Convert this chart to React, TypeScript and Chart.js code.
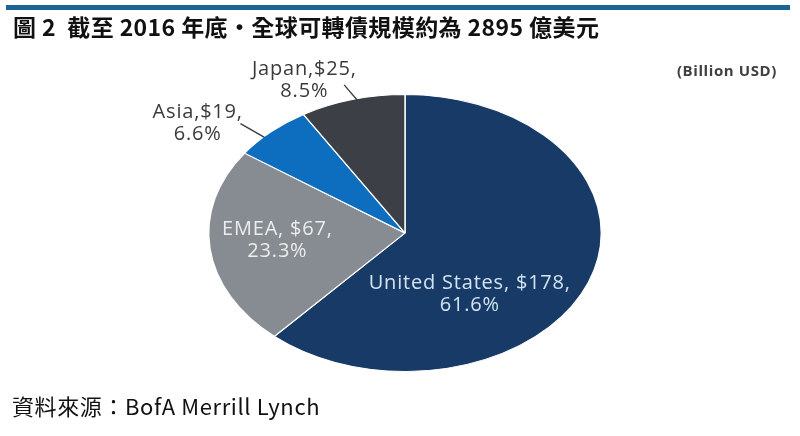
import React, { useEffect, useRef } from "react";
import { Chart, registerables } from "chart.js";

Chart.register(...registerables);

const titleText = "圖 2  截至 2016 年底‧全球可轉債規模約為 2895 億美元";
const unitText = "(Billion USD)";
const sourceText = "資料來源：BofA Merrill Lynch";

const categories = ["United States", "EMEA", "Asia", "Japan"];
const values = [178, 67, 19, 25];
const percents = ["61.6%", "23.3%", "6.6%", "8.5%"];
const separators = [", $", ", $", ",$", ",$"];
const sliceColors = ["#173a67", "#878c93", "#0d6ec0", "#3c4046"];
const labelColors = ["#d4e3f3", "#ececec", "#3a3a3a", "#3a3a3a"];

// label placement, in units of the ellipse radii from its centre
const labelPos = [
  [0.33, 0.44],
  [-0.65, 0.05],
  [-1.056, -0.79],
  [-0.513, -1.1],
];
const leaders: (number[] | null)[] = [
  null,
  null,
  [-0.838, -0.79, -0.716, -0.69],
  [-0.31, -1.07, -0.244, -0.96],
];

const STRETCH = 197 / 139;

const ellipsePlugin = {
  id: "ellipse",
  beforeDatasetsDraw(chart: any) {
    const arc = chart.getDatasetMeta(0).data[0];
    const ctx = chart.ctx;
    ctx.save();
    ctx.translate(arc.x, arc.y);
    ctx.scale(STRETCH, 1);
    ctx.translate(-arc.x, -arc.y);
  },
  afterDatasetsDraw(chart: any) {
    const ctx = chart.ctx;
    ctx.restore();
    const arc = chart.getDatasetMeta(0).data[0];
    const cx = arc.x;
    const cy = arc.y;
    const ry = arc.outerRadius;
    const rx = ry * STRETCH;
    ctx.save();
    ctx.font = '20px "Open Sans"';
    (ctx as any).letterSpacing = "0.8px";
    ctx.textAlign = "center";
    ctx.textBaseline = "middle";
    categories.forEach((c, i) => {
      const [nx, ny] = labelPos[i];
      const x = cx + nx * rx;
      const y = cy + ny * ry;
      ctx.fillStyle = labelColors[i];
      ctx.fillText(`${c}${separators[i]}${values[i]},`, x, y - 11);
      ctx.fillText(percents[i], x, y + 11);
      const l = leaders[i];
      if (l) {
        ctx.strokeStyle = "#3a3a3a";
        ctx.lineWidth = 1.3;
        ctx.beginPath();
        ctx.moveTo(cx + l[0] * rx, cy + l[1] * ry);
        ctx.lineTo(cx + l[2] * rx, cy + l[3] * ry);
        ctx.stroke();
      }
    });
    ctx.restore();
  },
  afterDraw(chart: any) {
    const ctx = chart.ctx;
    ctx.save();
    ctx.fillStyle = "#1a6496";
    ctx.fillRect(6, 5, 784, 5);
    ctx.textBaseline = "middle";
    ctx.textAlign = "left";
    ctx.fillStyle = "#111111";
    ctx.font = 'bold 23px "Noto Sans CJK TC"';
    (ctx as any).letterSpacing = "0.4px";
    ctx.fillText(titleText, 13, 27);
    ctx.font = '22px "Noto Sans CJK TC"';
    (ctx as any).letterSpacing = "0.6px";
    ctx.fillText(sourceText, 12, 407);
    ctx.textAlign = "right";
    ctx.fillStyle = "#404040";
    ctx.font = 'bold 15px "Open Sans"';
    (ctx as any).letterSpacing = "0.6px";
    ctx.fillText(unitText, 777, 72);
    ctx.restore();
  },
};

export default function App() {
  const ref = useRef<HTMLCanvasElement>(null);
  useEffect(() => {
    document.body.style.margin = "0";
    const chart = new Chart(ref.current!, {
      type: "pie",
      data: {
        labels: categories,
        datasets: [
          {
            data: values,
            backgroundColor: sliceColors,
            borderColor: "#ffffff",
            borderWidth: 1,
          },
        ],
      },
      options: {
        animation: false,
        responsive: false,
        maintainAspectRatio: false,
        layout: { padding: { top: 94, bottom: 64, left: 10, right: 0 } },
        plugins: {
          legend: { display: false },
          tooltip: { enabled: false },
          title: { display: false },
        },
      },
      plugins: [ellipsePlugin],
    });
    return () => chart.destroy();
  }, []);
  return (
    <div style={{ width: 800, height: 436, background: "#fff" }}>
      <canvas ref={ref} width={800} height={436} style={{ display: "block" }} />
    </div>
  );
}
